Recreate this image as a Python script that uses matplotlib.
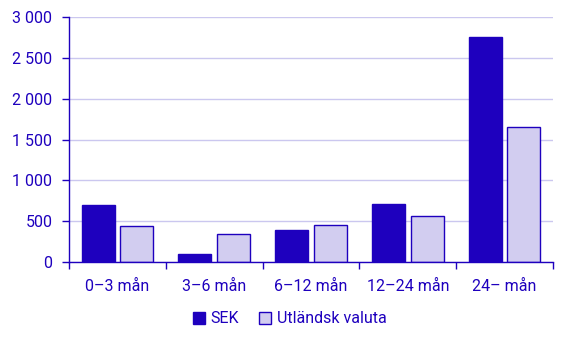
import numpy as np
import matplotlib.pyplot as plt
from matplotlib.ticker import FuncFormatter, MultipleLocator

plt.rcParams['font.family'] = ['Roboto', 'DejaVu Sans']

categories = ['0–3 mån', '3–6 mån', '6–12 mån', '12–24 mån', '24– mån']
sek = [700, 100, 390, 710, 2750]
utl = [440, 345, 455, 565, 1650]
series_names = ['SEK', 'Utländsk valuta']

BLUE = '#1e00be'
LIGHT = '#d2cdf0'
GRID = '#cbc7ef'
FS = 11.5

fig = plt.figure(figsize=(5.68, 3.40), dpi=100)
ax = fig.add_axes([0.1215, 0.2294, 0.852, 0.7206])

x = np.arange(len(categories))
w = 0.34
ax.bar(x - 0.2, sek, w, color=BLUE, edgecolor=BLUE, linewidth=1, label=series_names[0], zorder=3)
ax.bar(x + 0.2, utl, w, color=LIGHT, edgecolor=BLUE, linewidth=1, label=series_names[1], zorder=3)

ax.set_xlim(-0.5, len(categories) - 0.5)
ax.set_ylim(0, 3000)
ax.yaxis.set_major_locator(MultipleLocator(500))
ax.yaxis.set_major_formatter(FuncFormatter(lambda v, p: f'{int(v):,}'.replace(',', ' ')))
ax.grid(axis='y', color=GRID, linewidth=1, zorder=0)

ax.set_xticks(x)
ax.set_xticklabels(categories)
ax.set_xticks(np.arange(-0.5, len(categories)), minor=True)
ax.tick_params(axis='x', which='major', length=0, pad=12, labelsize=FS, labelcolor=BLUE)
ax.tick_params(axis='x', which='minor', length=5, width=1, color=BLUE)
ax.tick_params(axis='y', length=5, width=1, color=BLUE, labelsize=FS, labelcolor=BLUE, pad=7)

for s in ['top', 'right']:
    ax.spines[s].set_visible(False)
for s in ['left', 'bottom']:
    ax.spines[s].set_color(BLUE)
    ax.spines[s].set_linewidth(1)
    ax.spines[s].set_zorder(4)

leg = fig.legend(loc='center', bbox_to_anchor=(0.51, 0.062), ncol=2, frameon=False,
                 handlelength=0.75, handleheight=0.75, handletextpad=0.35, columnspacing=1.3,
                 fontsize=FS)
for t in leg.get_texts():
    t.set_color(BLUE)

fig.savefig('out.png', dpi=100)
